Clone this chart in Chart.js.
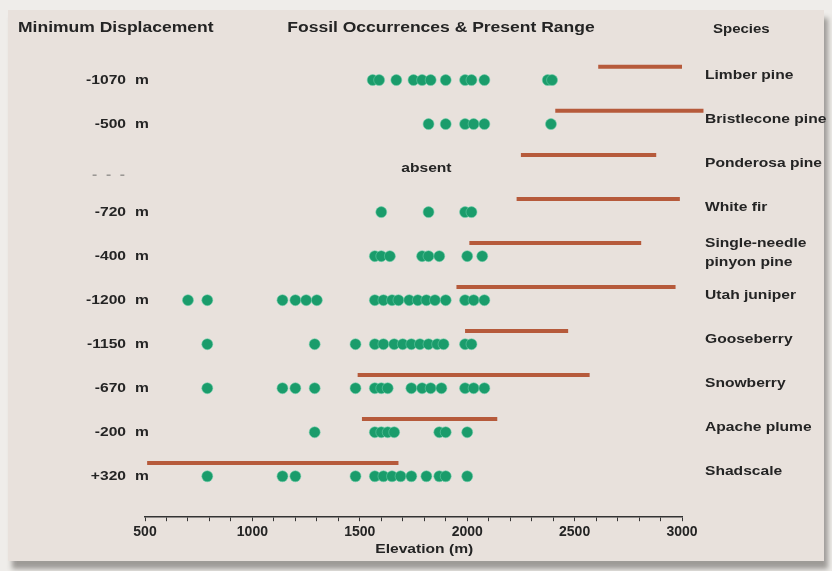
<!DOCTYPE html>
<html>
<head>
<meta charset="utf-8">
<script src="https://cdn.jsdelivr.net/npm/chart.js@4.4.1/dist/chart.umd.min.js"></script>
<style>
  html, body { margin:0; padding:0; width:832px; height:571px; overflow:hidden; background:#efedea; }
  #panel { position:absolute; left:8px; top:10px; width:816px; height:551px; background:#e8e1dc;
           box-shadow: 4px 8px 5px rgba(60,55,50,0.45); }
  #chart { position:absolute; left:0; top:0; }
</style>
</head>
<body>
<div id="panel"></div>
<canvas id="chart" width="832" height="571"></canvas>
<script>
// ---- data ----
const species = ['Limber pine','Bristlecone pine','Ponderosa pine','White fir',
  ['Single-needle','pinyon pine'],'Utah juniper','Gooseberry','Snowberry','Apache plume','Shadscale'];
const displacement = ['-1070','-500',null,'-720','-400','-1200','-1150','-670','-200','+320'];

// present range (m)
const rangeLow  = [2610, 2410, 2250, 2230, 2010, 1950, 1990, 1490, 1510, 510];
const rangeHigh = [3000, 3100, 2880, 2990, 2810, 2970, 2470, 2570, 2140, 1680];

// fossil occurrences (m)
const fossilLimber      = [1560, 1590, 1670, 1750, 1790, 1830, 1900, 1990, 2020, 2080, 2375, 2395];
const fossilBristlecone = [1820, 1900, 1990, 2030, 2080, 2390];
const fossilPonderosa   = [];
const fossilWhiteFir    = [1600, 1820, 1990, 2020];
const fossilPinyon      = [1570, 1600, 1640, 1790, 1820, 1870, 2000, 2070];
const fossilJuniper     = [700, 790, 1140, 1200, 1250, 1300, 1570, 1610, 1650, 1680, 1730, 1770, 1810, 1850, 1900, 1990, 2030, 2080];
const fossilGooseberry  = [790, 1290, 1480, 1570, 1610, 1660, 1700, 1740, 1780, 1820, 1860, 1890, 1990, 2020];
const fossilSnowberry   = [790, 1140, 1200, 1290, 1480, 1570, 1600, 1630, 1740, 1790, 1830, 1880, 1990, 2030, 2080];
const fossilApache      = [1290, 1570, 1600, 1630, 1660, 1870, 1900, 2000];
const fossilShadscale   = [790, 1140, 1200, 1480, 1570, 1610, 1650, 1690, 1740, 1810, 1870, 1900, 2000];

const fossils = [fossilLimber, fossilBristlecone, fossilPonderosa, fossilWhiteFir, fossilPinyon,
  fossilJuniper, fossilGooseberry, fossilSnowberry, fossilApache, fossilShadscale];

const dotColor = '#1a9c6b';
const rangeColor = '#b65a3b';
const textColor = '#242424';
const FONT = '"Liberation Sans", Arial, sans-serif';

// =======================
// DATASETS
// =======================
const rangeSets = species.map((s, i) => ({
  type: 'line',
  data: [{x: rangeLow[i], y: i - 0.3}, {x: rangeHigh[i], y: i - 0.3}],
  borderColor: rangeColor,
  borderWidth: 4,
  borderCapStyle: 'butt',
  pointRadius: 0,
  clip: false,
  order: 2
}));

const dotSet = {
  type: 'scatter',
  data: fossils.flatMap((arr, i) => arr.map(x => ({x, y: i}))),
  backgroundColor: dotColor,
  borderColor: 'rgba(110,205,170,0.55)',
  borderWidth: 1,
  pointRadius: 5.5,
  clip: false,
  order: 1
};

// stretched text helper (the source lettering is wide)
function wideText(ctx, txt, x, y, size, align, sx, color){
  ctx.save();
  ctx.font = 'bold ' + size + 'px ' + FONT;
  ctx.fillStyle = color || textColor;
  ctx.textBaseline = 'middle';
  const w = ctx.measureText(txt).width * sx;
  let left = x;
  if (align === 'center') left = x - w/2;
  else if (align === 'right') left = x - w;
  ctx.translate(left, y);
  ctx.scale(sx, 1);
  ctx.textAlign = 'left';
  ctx.fillText(txt, 0, 0);
  ctx.restore();
}

const labelPlugin = {
  id: 'labels',
  afterDraw(chart){
    const ctx = chart.ctx;
    const xs = chart.scales.x, ys = chart.scales.y;
    const SX = 1.2;

    // headers
    wideText(ctx, 'Minimum Displacement', 18, 28, 14, 'left', 1.25);
    wideText(ctx, 'Fossil Occurrences & Present Range', 441, 28, 14, 'center', 1.25);
    wideText(ctx, 'Species', 713, 30, 12.5, 'left', SX);

    species.forEach((s, i) => {
      const y = ys.getPixelForValue(i);
      // left column
      if (displacement[i]) {
        wideText(ctx, displacement[i], 126, y, 13, 'right', SX);
        wideText(ctx, 'm', 135, y, 13, 'left', SX);
      } else {
        wideText(ctx, '-  -  -', 125, y + 7, 13, 'right', SX, '#9a9794');
      }
      // species column
      if (Array.isArray(s)) {
        wideText(ctx, s[0], 705, y - 13, 13, 'left', SX);
        wideText(ctx, s[1], 705, y + 6, 13, 'left', SX);
      } else {
        wideText(ctx, s, 705, y - 5, 13, 'left', SX);
      }
      if (fossils[i].length === 0) {
        wideText(ctx, 'absent', xs.getPixelForValue(1810), y, 13, 'center', SX);
      }
    });

    // axis title
    wideText(ctx, 'Elevation (m)', xs.getPixelForValue(1800), 549, 13, 'center', SX);
  }
};

// =======================
// CHART
// =======================
new Chart(document.getElementById('chart'), {
  data: { datasets: [...rangeSets, dotSet] },
  options: {
    responsive: false,
    animation: false,
    events: [],
    layout: { padding: { left: 145, right: 150, top: 14, bottom: 27 } },
    plugins: { legend: { display: false }, tooltip: { enabled: false } },
    scales: {
      x: {
        type: 'linear',
        min: 500, max: 3000,
        border: { display: true, color: '#333', width: 1.5 },
        grid: { drawOnChartArea: false, drawTicks: true, tickLength: 4, color: '#333', lineWidth: 1 },
        ticks: {
          stepSize: 100, maxTicksLimit: 40, autoSkip: false, maxRotation: 0, padding: 3,
          color: textColor,
          font: { family: FONT, size: 14, weight: 'bold' },
          callback: v => (v % 500 === 0 ? String(v) : '')
        }
      },
      y: {
        type: 'linear',
        display: false,
        reverse: true,
        min: -1.5, max: 9.93
      }
    }
  },
  plugins: [labelPlugin]
});
</script>
</body>
</html>
